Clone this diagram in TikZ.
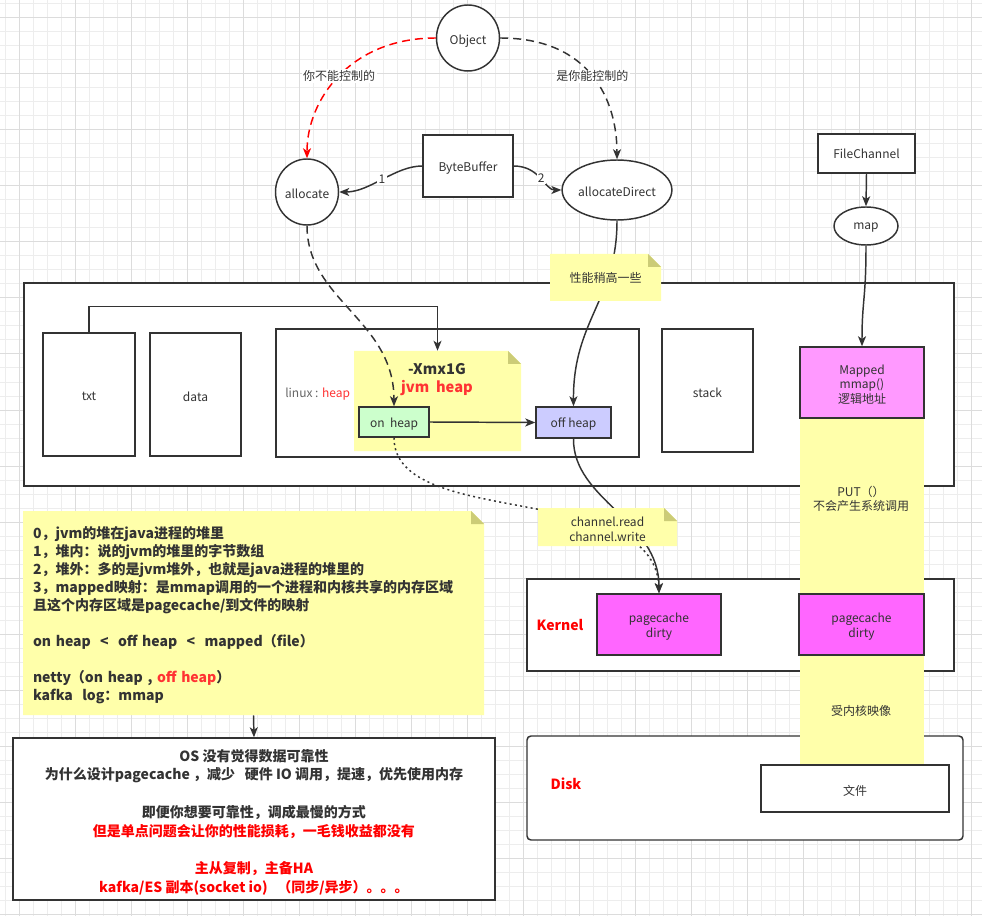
\documentclass[tikz,border=0pt]{standalone}
\usepackage{fontspec}
\setmainfont{Noto Sans CJK SC}
\usetikzlibrary{shapes.geometric,arrows.meta,fit}
\definecolor{edge}{HTML}{333333}
\definecolor{txt}{HTML}{333333}
\definecolor{graytxt}{HTML}{666666}
\definecolor{heapred}{HTML}{FF3333}
\definecolor{notefill}{HTML}{FFFFAA}
\definecolor{notefold}{HTML}{CCCC77}
\definecolor{onheapc}{HTML}{CCFFCC}
\definecolor{offheapc}{HTML}{CCCCFF}
\definecolor{pcc}{HTML}{FF66FF}
\definecolor{mappedc}{HTML}{FF99FF}
\definecolor{gridminor}{HTML}{EDEDED}
\definecolor{gridmajor}{HTML}{DCDCDC}
\newcommand{\lo}[1]{\raisebox{-1.5pt}[\height][\depth]{#1}}
\newcommand{\ynote}[7]{%
  \fill[notefill] (#2,#3) -- ({#4-13},#3) -- (#4,{#3+13}) -- (#4,#5) -- (#2,#5) -- cycle;
  \fill[notefold] ({#4-13},#3) -- ({#4-13},{#3+13}) -- (#4,{#3+13}) -- cycle;
  \node[inner sep=0pt, fit={(#2,#3) (#4,#5)}, label={[txtlbl,#6]center:#7}] (#1) {};
}
\begin{document}
\begin{tikzpicture}[x=0.75pt,y=-0.75pt,
  lbl/.style={font=\fontsize{9}{11}\selectfont, text=txt},
  boldlbl/.style={font=\bfseries\fontsize{10.5}{13.5}\selectfont},
  txtlbl/.style={lbl, align=center, inner sep=0pt, yshift=-1.5pt},
  boxst/.style={draw=edge, line width=1.1pt, fill=white, inner sep=0pt},
  ellst/.style={ellipse, draw=edge, line width=1.1pt, fill=white, inner sep=0pt, lbl},
  conn/.style={draw=edge, line width=1.1pt},
  arr/.style={conn, -{Stealth[length=7.5pt,width=6pt,inset=2pt]}},
  dashpat/.style={dash pattern=on 6pt off 3.75pt},
  dotpat/.style={dash pattern=on 1.5pt off 2.5pt},
  elbl/.style={lbl, fill=white, inner sep=1pt},
]
\useasboundingbox (0,0) rectangle (982,916);
\fill[white] (0,0) rectangle (982,916);
% grid
\foreach \gx in {5,19,...,981} {\draw[gridminor, line width=0.75pt] (\gx,0) -- (\gx,916);}
\foreach \gy in {4,18,...,915} {\draw[gridminor, line width=0.75pt] (0,\gy) -- (982,\gy);}
\foreach \gx in {19,75,...,981} {\draw[gridmajor, line width=0.75pt] (\gx,0) -- (\gx,916);}
\foreach \gy in {18,74,...,915} {\draw[gridmajor, line width=0.75pt] (0,\gy) -- (982,\gy);}

% large containers
\node[boxst, fit={(24,283) (954,486)}] (proc) {};
\node[boxst, fit={(527,579) (954,671)}] (kernel) {};
\node[boxst, rounded corners=3pt, fit={(527,736) (963,840)}] (disk) {};

% process segments
\node[boxst, fit={(43,333) (135,456)}, label={[txtlbl, name=txtl]center:txt}] (txt) {};
\node[boxst, fit={(150,333) (241,456)}, label={[txtlbl, name=datal]center:data}] (data) {};
\node[boxst, fit={(276,329) (639,457)}] (linux) {};
\node[boxst, fit={(662,329) (753,452)}, label={[txtlbl, name=stackl]center:stack}] (stack) {};
\node[lbl, text=graytxt, anchor=west, inner sep=0pt] (linuxlbl) at (285,394) {linux : \textcolor{heapred}{heap}};

% jvm heap note
\ynote{xmx}{354}{351}{521}{451}{name=xmxl0}{}
\node[font=\bfseries\fontsize{11}{13.5}\selectfont, align=center, text=txt, inner sep=0pt] (xmxlbl) at (437,380) {-Xmx1G\\\textcolor{heapred}{jvm\ \ heap}};

\node[boxst, fill=onheapc, fit={(359,407) (429,437)}, label={[txtlbl, name=onl]center:on\ \ heap}] (onheap) {};
\node[boxst, fill=offheapc, fit={(536,407) (611,438)}, label={[txtlbl, name=offl]center:off heap}] (offheap) {};

% mapped strip
\node[fill=notefill, inner sep=0pt, fit={(800,418) (924,764)}] (strip) {};
\node[boxst, fill=mappedc, fit={(800,347) (924,418)}, label={[txtlbl, name=mappedl]center:Mapped\\mmap()\\逻辑地址}] (mapped) {};
\node[boxst, fill=pcc, fit={(597,594) (721,655)}, label={[txtlbl, name=pc1l]center:pagecache\\dirty}] (pc1) {};
\node[boxst, fill=pcc, fit={(799,594) (924,655)}, label={[txtlbl, name=pc2l]center:pagecache\\dirty}] (pc2) {};
\node[boxst, fit={(761,765) (949,812)}, label={[txtlbl, name=filel]center:文件}] (file) {};
\node[lbl, align=center] (put) at (861,499) {PUT（）\\不会产生系统调用};
\node[lbl] (kmap) at (861,711) {受内核映像};
\node[boldlbl, text=red] (kernellbl) at (560,625) {Kernel};
\node[boldlbl, text=red] (disklbl) at (566,784) {Disk};

% top nodes
\node[ellst, minimum width=47.25pt, minimum height=49.5pt] (object) at (468,38) {\raisebox{-2.5pt}[\height][\depth]{Object}};
\node[ellst, minimum width=47.25pt, minimum height=49.5pt] (allocate) at (307,192) {\lo{allocate}};
\node[ellst, minimum width=78pt, minimum height=45pt] (adirect) at (617,190) {\lo{allocateDirect}};
\node[boxst, fit={(423,135) (513,197)}, label={[txtlbl, name=bbl]center:ByteBuffer}] (bb) {};
\node[boxst, fit={(818,134) (915,173)}, label={[txtlbl, name=fcl, yshift=1pt]center:FileChannel}] (fc) {};
\node[ellst, minimum width=48pt, minimum height=28.5pt] (map) at (866,226) {\lo{map}};

% connectors
\draw[arr, draw=red, dashpat] (object.west) .. controls (350,38) and (307,100) .. (allocate.north)
  node[elbl, pos=0.5] (ctl1) {你不能控制的};
\draw[arr, dashpat] (object.east) .. controls (590,38) and (617,100) .. (adirect.north)
  node[elbl, pos=0.5] (ctl2) {是你能控制的};
\draw[arr] (bb.west) .. controls (395,166) and (370,192) .. (allocate.east)
  node[elbl, pos=0.5] (n1) {1};
\draw[arr] (bb.east) .. controls (540,166) and (545,190) .. (adirect.west)
  node[elbl, pos=0.5] (n2) {2};
\draw[arr, dashpat] (allocate.south) .. controls (307,300) and (394,320) .. (onheap.north);
\draw[arr] (adirect.south) .. controls (617,300) and (573,320) .. (offheap.north);
\draw[arr] (txt.north) -- ++(0,-26) -| (xmx.north);
\draw[arr] (onheap.east) -- (offheap.west);
\draw[arr] (fc.south) -- (map.north);
\draw[arr] (map.south) .. controls (866,300) and (862,300) .. (mapped.north);
\draw[arr] (offheap.south) .. controls (573,500) and (659,520) .. (pc1.north);
\draw[arr, dotpat] (onheap.south) .. controls (394,530) and (655,480) .. (pc1.north);

% notes over connectors
\ynote{perf}{550}{254}{661}{301}{name=perfl, yshift=1pt}{性能稍高一些}
\ynote{chan}{538}{508}{677}{546}{name=chanl}{channel.read\\channel.write}
\ynote{bignote}{23}{511}{484}{715}{name=bigl, boldlbl, text=txt, align=left, text width=330.75pt, yshift=0pt}{%
0，jvm的堆在java进程的堆里\\
1，堆内：说的jvm的堆里的字节数组\\
2，堆外：多的是jvm堆外，也就是java进程的堆里的\\
3，mapped映射：是mmap调用的一个进程和内核共享的内存区域\\
且这个内存区域是pagecache/到文件的映射\\[13.5pt]
on heap\ \ <\ \ off heap\ \ <\ \ mapped（file）\\[13.5pt]
netty（on heap , \textcolor{heapred}{off heap}）\\
kafka\ \ log：mmap}

\node[boxst, fit={(13,738) (495,900)}, label={[txtlbl, name=osl, font=\bfseries\fontsize{10.5}{14.1}\selectfont, yshift=-1pt]center:%
OS 没有觉得数据可靠性\\
为什么设计pagecache ，减少\ \ \ 硬件 IO 调用，提速，优先使用内存\\[14.1pt]
即便你想要可靠性，调成最慢的方式\\
\textcolor{red}{但是单点问题会让你的性能损耗，一毛钱收益都没有}\\[14.1pt]
\textcolor{red}{主从复制，主备HA}\\
\textcolor{red}{kafka/ES 副本(socket io)\ \ \ （同步/异步）。。。}}] (os) {};
\draw[arr] (bignote.south) -- (os.north);
\end{tikzpicture}
\end{document}
